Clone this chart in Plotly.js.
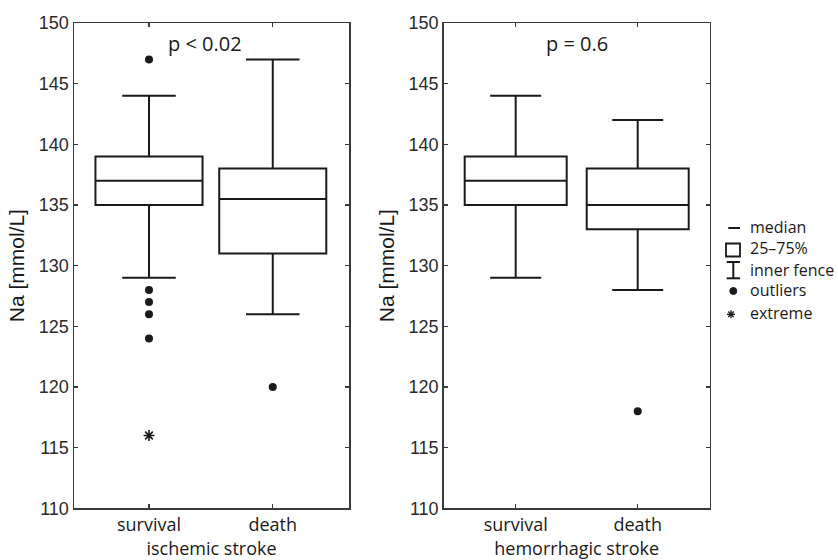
<!DOCTYPE html>
<html>
<head>
<meta charset="utf-8">
<script src="https://cdn.plot.ly/plotly-3.0.1.min.js"></script>
<style>html,body{margin:0;padding:0;background:#fff;}#chart{width:838px;height:560px;}</style>
</head>
<body>
<div id="chart"></div>
<script>
// ---- data ----
const categories = ['survival', 'death'];

const ischemicQ1 = [135, 131];
const ischemicMedian = [137, 135.5];
const ischemicQ3 = [139, 138];
const ischemicLowerFence = [129, 126];
const ischemicUpperFence = [144, 147];
const ischemicOutlierCat = ['survival', 'survival', 'survival', 'survival', 'survival', 'death'];
const ischemicOutlierVal = [147, 128, 127, 126, 124, 120];
const ischemicExtremeCat = ['survival'];
const ischemicExtremeVal = [116];

const hemorrhagicQ1 = [135, 133];
const hemorrhagicMedian = [137, 135];
const hemorrhagicQ3 = [139, 138];
const hemorrhagicLowerFence = [129, 128];
const hemorrhagicUpperFence = [144, 142];
const hemorrhagicOutlierCat = ['death'];
const hemorrhagicOutlierVal = [118];

const yTickVals = [110, 115, 120, 125, 130, 135, 140, 145, 150];
const pLabels = ['p < 0.02', 'p = 0.6'];
const groupTitles = ['ischemic stroke', 'hemorrhagic stroke'];
const yTitle = 'Na [mmol/L]';
const legendLabels = ['median', '25\u201375%', 'inner fence', 'outliers', 'extreme'];

// ---- styles ----
const INK = '#1a1a1a';
const AX = '#3a3a3a';
const W = 838, H = 560;
const px = v => v / W;
const py = v => 1 - v / H;

function boxTrace(q1, med, q3, lo, hi, xa, ya, w) {
  return {
    type: 'box', x: categories, q1: q1, median: med, q3: q3,
    lowerfence: lo, upperfence: hi, xaxis: xa, yaxis: ya,
    width: w, whiskerwidth: 0.5, boxpoints: false,
    line: {color: INK, width: 2}, fillcolor: 'rgba(0,0,0,0)',
    showlegend: false, hoverinfo: 'none'
  };
}
function pts(xs, ys, xa, ya, extreme) {
  return {
    type: 'scatter', mode: 'markers', x: xs, y: ys, xaxis: xa, yaxis: ya,
    marker: extreme ? {symbol: 'asterisk-open', size: 9, color: INK, line: {color: INK, width: 1.6}}
                    : {symbol: 'circle', size: 8, color: INK},
    showlegend: false, hoverinfo: 'none', cliponaxis: false
  };
}

const data = [
  boxTrace(ischemicQ1, ischemicMedian, ischemicQ3, ischemicLowerFence, ischemicUpperFence, 'x', 'y', 0.865),
  pts(ischemicOutlierCat, ischemicOutlierVal, 'x', 'y', false),
  pts(ischemicExtremeCat, ischemicExtremeVal, 'x', 'y', true),
  boxTrace(hemorrhagicQ1, hemorrhagicMedian, hemorrhagicQ3, hemorrhagicLowerFence, hemorrhagicUpperFence, 'x2', 'y2', 0.836),
  pts(hemorrhagicOutlierCat, hemorrhagicOutlierVal, 'x2', 'y2', false)
];

const tickFontY = {family: 'Liberation Sans, Arial, sans-serif', size: 18, color: '#2a2a2a'};
const tickFontX = {family: 'Open Sans, sans-serif', size: 18, color: '#1a1a1a'};

function xAxis(domain, range, title, anchor) {
  return {
    domain: domain, range: range, type: 'category', categoryorder: 'array', categoryarray: categories,
    anchor: anchor, showline: true, linecolor: AX, linewidth: 1.5, mirror: 'allticks',
    ticks: 'inside', ticklen: 4, tickwidth: 1.2, tickcolor: AX, showgrid: false, zeroline: false,
    tickfont: tickFontX,
    title: {text: title, font: {family: 'Open Sans, sans-serif', size: 18, color: '#1a1a1a'}, standoff: 6}
  };
}
function yAxis(anchor) {
  return {
    domain: [py(508.3), py(23)], range: [110, 150], tickvals: yTickVals, anchor: anchor,
    showline: true, linecolor: AX, linewidth: 1.5, mirror: 'allticks',
    ticks: 'inside', ticklen: 4, tickwidth: 1.2, tickcolor: AX, showgrid: false, zeroline: false,
    tickfont: tickFontY,
    title: {text: yTitle, font: {family: 'Liberation Sans, Arial, sans-serif', size: 21, color: '#1a1a1a'}, standoff: 8}
  };
}

// legend (drawn as layout glyphs)
const legTextX = 747.7;
const legY = [226.7, 248, 270, 290, 313];
const annotations = [
  {xref: 'x', yref: 'y', x: 0.45, y: 148.35, text: pLabels[0], showarrow: false, yanchor: 'middle',
   font: {family: 'Open Sans, sans-serif', size: 20, color: '#1a1a1a'}},
  {xref: 'x2', yref: 'y2', x: 0.5, y: 148.35, text: pLabels[1], showarrow: false, yanchor: 'middle',
   font: {family: 'Open Sans, sans-serif', size: 20, color: '#1a1a1a'}}
];
legendLabels.forEach((t, i) => {
  annotations.push({xref: 'paper', yref: 'paper', x: px(legTextX), y: py(legY[i]), xanchor: 'left', yanchor: 'middle',
    text: t, showarrow: false, font: {family: 'Open Sans, sans-serif', size: 16, color: '#1a1a1a'}});
});

const L = {color: INK, width: 2};
const shapes = [
  {type: 'line', xref: 'paper', yref: 'paper', x0: px(728.3), x1: px(740), y0: py(228), y1: py(228), line: L},
  {type: 'rect', xref: 'paper', yref: 'paper', x0: px(726), x1: px(740), y0: py(243.5), y1: py(256.5), line: {color: INK, width: 1.8}},
  {type: 'line', xref: 'paper', yref: 'paper', x0: px(726.7), x1: px(740), y0: py(262), y1: py(262), line: L},
  {type: 'line', xref: 'paper', yref: 'paper', x0: px(733.3), x1: px(733.3), y0: py(262), y1: py(278.3), line: L},
  {type: 'line', xref: 'paper', yref: 'paper', x0: px(726.7), x1: px(740), y0: py(278.3), y1: py(278.3), line: L},
  {type: 'circle', xref: 'paper', yref: 'paper', x0: px(729.8), x1: px(736.8), y0: py(287.5), y1: py(294.5), fillcolor: INK, line: {color: INK, width: 1}},
  {type: 'line', xref: 'paper', yref: 'paper', x0: px(727), x1: px(735), y0: py(314.3), y1: py(314.3), line: {color: INK, width: 1.4}},
  {type: 'line', xref: 'paper', yref: 'paper', x0: px(731), x1: px(731), y0: py(310.3), y1: py(318.3), line: {color: INK, width: 1.4}},
  {type: 'line', xref: 'paper', yref: 'paper', x0: px(728.2), x1: px(733.8), y0: py(311.5), y1: py(317.1), line: {color: INK, width: 1.4}},
  {type: 'line', xref: 'paper', yref: 'paper', x0: px(728.2), x1: px(733.8), y0: py(317.1), y1: py(311.5), line: {color: INK, width: 1.4}}
];

const layout = {
  width: W, height: H,
  margin: {l: 0, r: 0, t: 0, b: 0},
  paper_bgcolor: '#ffffff', plot_bgcolor: '#ffffff',
  showlegend: false,
  xaxis: xAxis([px(74), px(349)], [-0.606, 1.616], groupTitles[0], 'y'),
  yaxis: yAxis('x'),
  xaxis2: xAxis([px(443.7), px(709.7)], [-0.59, 1.59], groupTitles[1], 'y2'),
  yaxis2: yAxis('x2'),
  annotations: annotations,
  shapes: shapes
};

Plotly.newPlot('chart', data, layout, {staticPlot: true, displayModeBar: false});
</script>
</body>
</html>
